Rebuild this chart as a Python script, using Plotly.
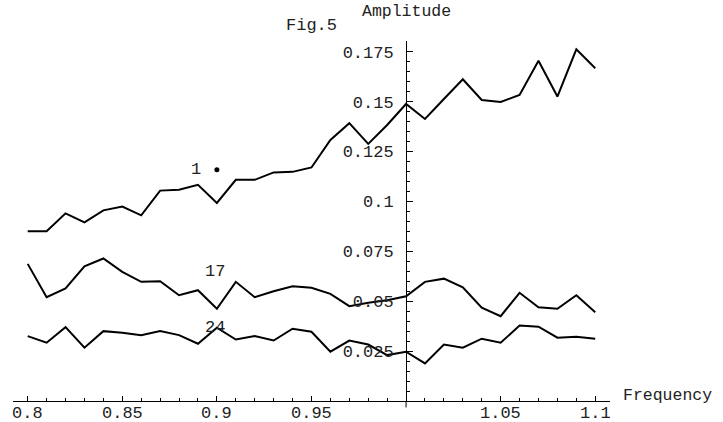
import plotly.graph_objects as go

freq = [0.80, 0.81, 0.82, 0.83, 0.84, 0.85, 0.86, 0.87, 0.88, 0.89, 0.90,
        0.91, 0.92, 0.93, 0.94, 0.95, 0.96, 0.97, 0.98, 0.99, 1.00,
        1.01, 1.02, 1.03, 1.04, 1.05, 1.06, 1.07, 1.08, 1.09, 1.10]

amp_1 = [0.085, 0.085, 0.094, 0.0895, 0.0955, 0.0974, 0.093, 0.1054, 0.1058, 0.1083, 0.0992,
         0.1108, 0.1108, 0.1145, 0.1148, 0.117, 0.1308, 0.1392, 0.1288, 0.1383, 0.1488,
         0.1413, 0.1513, 0.1612, 0.1508, 0.1498, 0.1533, 0.1705, 0.1525, 0.1762, 0.1667]
amp_17 = [0.0687, 0.052, 0.0564, 0.0675, 0.0714, 0.0647, 0.0597, 0.06, 0.053, 0.0555, 0.0462,
          0.0597, 0.052, 0.055, 0.0575, 0.0567, 0.0537, 0.0475, 0.0492, 0.0505, 0.0525,
          0.0597, 0.0613, 0.057, 0.0467, 0.0425, 0.0542, 0.047, 0.0462, 0.053, 0.0445]
amp_24 = [0.0325, 0.0292, 0.037, 0.0267, 0.035, 0.0342, 0.033, 0.035, 0.033, 0.0287, 0.0367,
          0.0308, 0.0325, 0.0303, 0.0362, 0.0347, 0.0247, 0.0303, 0.0283, 0.023, 0.0247,
          0.0188, 0.0283, 0.0267, 0.0312, 0.0292, 0.0378, 0.0372, 0.0317, 0.0322, 0.0312]

label_text = ["1", "17", "24"]
label_x = [0.889, 0.899, 0.899]
label_y = [0.1158, 0.065, 0.0367]
dot_x = [0.9]
dot_y = [0.1158]

x_tickvals = [0.8, 0.85, 0.9, 0.95, 1.05, 1.1]
x_ticktext = ["0.8", "0.85", "0.9", "0.95", "1.05", "1.1"]
y_tickvals = [0.025, 0.05, 0.075, 0.1, 0.125, 0.15, 0.175]
y_ticktext = ["0.025", "0.05", "0.075", "0.1", "0.125", "0.15", "0.175"]

FONT = "Liberation Mono"
FS = 17
TXT = "#222"
x_range = [0.79223, 1.1078]
y_range = [0.0, 0.18035]
origin_x = 1.0
ypos = (origin_x - x_range[0]) / (x_range[1] - x_range[0])

fig = go.Figure()
for ys in (amp_1, amp_17, amp_24):
    fig.add_trace(go.Scatter(x=freq, y=ys, mode="lines",
                             line=dict(color="black", width=2), showlegend=False,
                             cliponaxis=False))
fig.add_trace(go.Scatter(x=dot_x, y=dot_y, mode="markers",
                         marker=dict(color="black", size=5), showlegend=False))

for t, x, y in zip(label_text, label_x, label_y):
    fig.add_annotation(x=x, y=y, text=t, showarrow=False,
                       font=dict(family=FONT, size=FS, color=TXT),
                       xanchor="center", yanchor="middle")

# x tick labels, placed just below the axis line
for v, t in zip(x_tickvals, x_ticktext):
    fig.add_annotation(x=v, xref="x", y=0.0, yref="paper", text=t,
                       showarrow=False, xanchor="center", yanchor="middle",
                       yshift=-12, font=dict(family=FONT, size=FS, color=TXT))

fig.add_annotation(x=0.5, xref="paper", y=1.0, yref="paper", text="Fig.5",
                   showarrow=False, yanchor="middle", yshift=16,
                   font=dict(family=FONT, size=FS, color=TXT))
fig.add_annotation(x=ypos, xref="paper", y=1.0, yref="paper", text="Amplitude",
                   showarrow=False, yanchor="middle", yshift=30,
                   font=dict(family=FONT, size=16.5, color=TXT))
fig.add_annotation(x=1.0, xref="paper", y=0.0, yref="paper", text="Frequency",
                   showarrow=False, xanchor="left", yanchor="middle",
                   xshift=11, yshift=6,
                   font=dict(family=FONT, size=16.5, color=TXT))

# y-axis line continuing slightly below the x axis (tick at the origin)
fig.add_shape(type="line", xref="paper", yref="paper", x0=ypos, x1=ypos,
              y0=0, y1=-0.018, line=dict(color="black", width=1))

fig.update_layout(
    width=723, height=422,
    margin=dict(l=13, r=113, t=41, b=21),
    paper_bgcolor="white", plot_bgcolor="white",
    font=dict(family=FONT, size=FS, color=TXT),
    xaxis=dict(range=x_range, showgrid=False, zeroline=False, automargin=False,
               showline=True, linecolor="black", linewidth=1,
               tickvals=x_tickvals, showticklabels=False,
               ticks="inside", ticklen=5, tickcolor="black", tickwidth=1,
               minor=dict(tick0=0.8, dtick=0.01, ticks="inside", ticklen=3,
                          tickcolor="black", tickwidth=1)),
    yaxis=dict(range=y_range, showgrid=False, zeroline=False, automargin=False,
               anchor="free", position=ypos,
               showline=True, linecolor="black", linewidth=1,
               tickvals=y_tickvals, ticktext=y_ticktext,
               ticks="inside", ticklen=6, tickcolor="black", tickwidth=1,
               minor=dict(tick0=0, dtick=0.005, ticks="inside", ticklen=3,
                          tickcolor="black", tickwidth=1),
               ticklabelstandoff=9,
               tickfont=dict(family=FONT, size=FS, color=TXT)),
)

fig.write_html("out.html", config={"displayModeBar": False},
               post_script="document.body.style.margin='0';document.body.style.overflow='hidden';")
